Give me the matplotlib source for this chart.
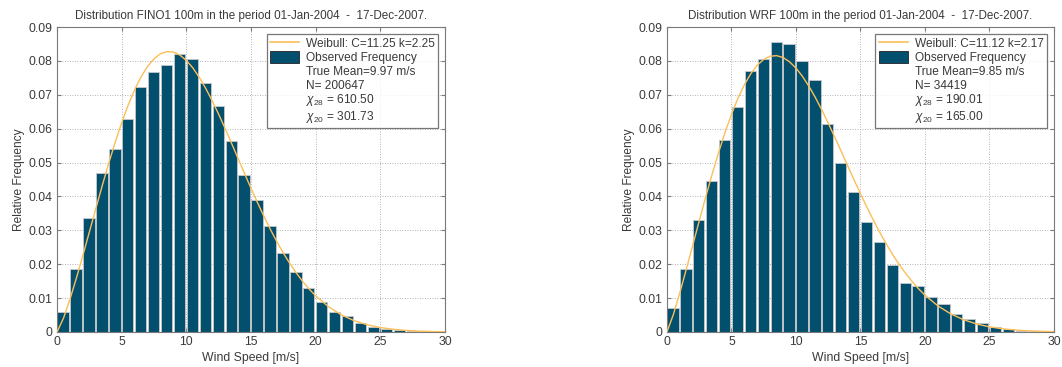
import matplotlib
matplotlib.use("Agg")
import matplotlib.pyplot as plt
from matplotlib.lines import Line2D
from matplotlib.patches import Patch

plt.rcParams['font.family'] = ['Liberation Sans', 'DejaVu Sans']
plt.rcParams['mathtext.fontset'] = 'custom'
plt.rcParams['mathtext.rm'] = 'Liberation Sans'
plt.rcParams['mathtext.it'] = 'Liberation Sans:italic'

# ---- data ----
bin_left = list(range(30))

fino_freq = [0.0059, 0.0187, 0.0337, 0.0470, 0.0539, 0.0628, 0.0723, 0.0766, 0.0787, 0.0819,
             0.0806, 0.0734, 0.0668, 0.0565, 0.0463, 0.0390, 0.0312, 0.0233, 0.0176, 0.0131,
             0.0088, 0.0058, 0.0047, 0.0027, 0.0016, 0.0010, 0.0006, 0.0003, 0.0002, 0.0001]
wrf_freq = [0.0072, 0.0187, 0.0331, 0.0447, 0.0567, 0.0664, 0.0769, 0.0806, 0.0855, 0.0849,
            0.0801, 0.0744, 0.0613, 0.0500, 0.0414, 0.0326, 0.0266, 0.0198, 0.0146, 0.0137,
            0.0104, 0.0082, 0.0052, 0.0039, 0.0028, 0.0014, 0.0008, 0.0004, 0.0002, 0.0001]

curve_x = [0, 0.5, 1, 1.5, 2, 2.5, 3, 3.5, 4, 4.5, 5, 5.5, 6, 6.5, 7, 7.5, 8, 8.5, 9, 9.5,
           10, 10.5, 11, 11.5, 12, 12.5, 13, 13.5, 14, 14.5, 15, 15.5, 16, 16.5, 17, 17.5,
           18, 18.5, 19, 19.5, 20, 21, 22, 23, 24, 25, 26, 27, 28, 29, 30]
fino_curve = [0, 0.00408, 0.00966, 0.01594, 0.02262, 0.02950, 0.03641, 0.04323, 0.04981, 0.05602,
              0.06177, 0.06694, 0.07148, 0.07531, 0.07836, 0.08063, 0.08209, 0.08274, 0.08261, 0.08172,
              0.08015, 0.07794, 0.07515, 0.07188, 0.06822, 0.06424, 0.06002, 0.05564, 0.05121, 0.04678,
              0.04242, 0.03819, 0.03412, 0.03026, 0.02665, 0.02329, 0.02022, 0.01742, 0.01491, 0.01266,
              0.01067, 0.00743, 0.00502, 0.00330, 0.00211, 0.00131, 0.00079, 0.00046, 0.00026, 0.00014, 0.00007]
wrf_curve = [0, 0.00517, 0.01159, 0.01849, 0.02560, 0.03273, 0.03975, 0.04652, 0.05292, 0.05884,
             0.06421, 0.06893, 0.07294, 0.07622, 0.07872, 0.08044, 0.08137, 0.08155, 0.08099, 0.07975,
             0.07789, 0.07547, 0.07256, 0.06923, 0.06557, 0.06166, 0.05757, 0.05337, 0.04915, 0.04495,
             0.04083, 0.03684, 0.03302, 0.02940, 0.02601, 0.02284, 0.01995, 0.01731, 0.01492, 0.01278,
             0.01087, 0.00772, 0.00535, 0.00361, 0.00237, 0.00152, 0.00095, 0.00058, 0.00035, 0.00020, 0.00011]

titles = ["Distribution FINO1 100m in the period 01-Jan-2004  -  17-Dec-2007.",
          "Distribution WRF 100m in the period 01-Jan-2004  -  17-Dec-2007."]
weibull_labels = ["Weibull: C=11.25 k=2.25", "Weibull: C=11.12 k=2.17"]
extra_lines = [["True Mean=9.97 m/s", "N= 200647", r"$\chi_{28}$ = 610.50", r"$\chi_{20}$ = 301.73"],
               ["True Mean=9.85 m/s", "N= 34419", r"$\chi_{28}$ = 190.01", r"$\chi_{20}$ = 165.00"]]
xticks = [0, 5, 10, 15, 20, 25, 30]
yticks = [0, 0.01, 0.02, 0.03, 0.04, 0.05, 0.06, 0.07, 0.08, 0.09]
ytick_labels = ["0", "0.01", "0.02", "0.03", "0.04", "0.05", "0.06", "0.07", "0.08", "0.09"]

bar_color = "#03506e"
curve_color = "#fbbf5a"
text_color = "#3a3a3a"
frame_color = "#7a7a7a"

fig = plt.figure(figsize=(10.62, 3.67), dpi=100)
axes_pos = [[0.0537, 0.0954, 0.3653, 0.831], [0.628, 0.0954, 0.3644, 0.831]]

for i, (freq, curve) in enumerate([(fino_freq, fino_curve), (wrf_freq, wrf_curve)]):
    ax = fig.add_axes(axes_pos[i])
    ax.bar([b + 0.03 for b in bin_left], freq, width=0.88, align='edge',
           color=bar_color, edgecolor="#c8c8c8", linewidth=0.6, zorder=2)
    ax.plot(curve_x, curve, color=curve_color, linewidth=1.0, zorder=3)
    ax.set_xlim(0, 30)
    ax.set_ylim(0, 0.09)
    ax.set_xticks(xticks)
    ax.set_yticks(yticks)
    ax.set_yticklabels(ytick_labels)
    ax.grid(True, linestyle=(0, (1, 2)), color="#9a9a9a", linewidth=0.6, zorder=0)
    ax.set_axisbelow(True)
    ax.tick_params(direction='in', top=True, right=True, length=3, labelsize=8.8,
                   colors=frame_color, labelcolor=text_color, pad=3)
    for s in ax.spines.values():
        s.set_color(frame_color)
        s.set_linewidth(0.8)
    ax.set_title(titles[i], fontsize=8.4, color=text_color, pad=6)
    ax.set_xlabel("Wind Speed [m/s]", fontsize=8.8, color=text_color, labelpad=3)
    ax.set_ylabel("Relative Frequency", fontsize=8.6, color=text_color, labelpad=3)

    handles = [Line2D([], [], color=curve_color, linewidth=1.2),
               Patch(facecolor=bar_color, edgecolor="#222222", linewidth=0.6)]
    labels = [weibull_labels[i], "Observed Frequency"]
    for t in extra_lines[i]:
        handles.append(Line2D([], [], linestyle='none'))
        labels.append(t)
    leg = ax.legend(handles, labels, loc='upper right', fontsize=8.6, frameon=True,
                    fancybox=False, borderpad=0.3, labelspacing=0.05,
                    handlelength=2.4, handleheight=1.2, handletextpad=0.6,
                    borderaxespad=0.55)
    leg.get_frame().set_edgecolor("#555555")
    leg.get_frame().set_linewidth(0.9)
    for txt in leg.get_texts():
        txt.set_color(text_color)

fig.savefig("out.png", dpi=100, facecolor="white")
